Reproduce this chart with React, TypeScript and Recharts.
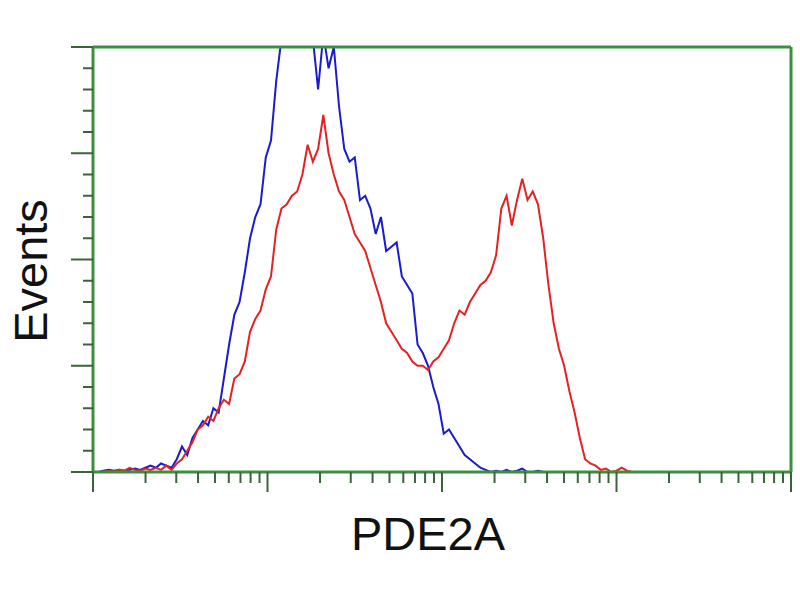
import React from 'react';
import { LineChart, Line, XAxis, YAxis, ReferenceLine } from 'recharts';

// Flow histogram, log fluorescence axis (4 decades), bins every 0.03 decades
const BIN_STEP = 0.03;

// blue: isotype / negative control
const controlCounts = [
  0, 0, 0.3, 0.5, 0.3, 0.5, 0.3, 0.5, 0.8, 0.5,
  1, 1.5, 1, 2, 1.5, 1, 3, 6, 4, 8,
  10, 12, 11, 15, 14, 22, 30, 37, 40, 47,
  55, 60, 63, 74, 78, 92, 102, 108, 112, 115,
  118, 113, 102, 90, 103, 95, 100, 86, 76, 73,
  74, 64, 65, 62, 56, 60, 52, 53, 54, 46,
  44, 42, 30, 28, 25, 20, 16, 9, 10, 8,
  6, 4, 3, 2, 1, 0.5, 0, 0.3, 0, 0.5,
  0, 0.3, 0.8, 0, 0, 0.3, 0,
];

// red: PDE2A transfected
const pde2aCounts = [
  0, 0, 0, 0.3, 0, 0.5, 0.3, 1, 0.5, 0.3,
  0.8, 0.5, 1, 0.5, 1.5, 0.5, 2, 3, 5, 7,
  10, 11, 13, 12, 15, 17, 16, 22, 23, 26,
  33, 36, 38, 43, 46, 57, 62, 63, 65, 66,
  70, 77, 73, 76, 84, 75, 70, 66, 64, 60,
  56, 54, 52, 48, 44, 40, 35, 33, 31, 29,
  28, 26, 25, 25, 24, 26, 27, 29, 31, 35,
  38, 37, 40, 42, 44, 45, 47, 51, 62, 65,
  58, 64, 69, 64, 66, 63, 55, 44, 35, 29,
  25, 19, 14, 8, 3, 2, 1.5, 0.5, 0.8, 0,
  0.3, 1, 0.3, 0,
];

const xTicks = [1, 10, 100, 1000, 10000].flatMap((d) =>
  d === 10000 ? [d] : [1, 2, 3, 4, 5, 6, 7, 8, 9].map((k) => k * d)
);
const yTicks = [0, 5, 10, 15, 20, 25, 30, 35, 40, 45, 50, 55, 60, 65, 70, 75, 80, 85, 90, 95, 100];

const AXIS_GREEN = '#3c8f3c';
const TICK_GREEN = '#3a633a';

const data = pde2aCounts.map((red, i) => ({
  x: Math.pow(10, i * BIN_STEP),
  control: i < controlCounts.length ? controlCounts[i] : undefined,
  pde2a: red,
}));

function XTick({ x, y, payload }: any) {
  const major = [1, 10, 100, 1000, 10000].includes(payload.value);
  return <line x1={x} x2={x} y1={y} y2={y + (major ? 20 : 11)} stroke={TICK_GREEN} strokeWidth={2} />;
}

function YTick({ x, y, payload }: any) {
  const major = payload.value % 25 === 0;
  return <line x1={x - (major ? 22 : 10)} x2={x} y1={y} y2={y} stroke={TICK_GREEN} strokeWidth={2} />;
}

export default function App() {
  return (
    <div style={{ position: 'absolute', left: 0, top: 0, width: 800, height: 600, background: '#fff' }}>
      <LineChart width={800} height={600} data={data} margin={{ top: 47, right: 9, left: 63, bottom: 98 }}>
        <XAxis
          dataKey="x"
          type="number"
          scale="log"
          domain={[1, 10000]}
          ticks={xTicks}
          interval={0}
          tick={<XTick />}
          tickLine={false}
          tickSize={0}
          tickMargin={0}
          height={30}
          axisLine={{ stroke: AXIS_GREEN, strokeWidth: 3 }}
        />
        <YAxis
          type="number"
          domain={[0, 100]}
          allowDataOverflow
          ticks={yTicks}
          interval={0}
          tick={<YTick />}
          tickLine={false}
          tickSize={0}
          tickMargin={0}
          width={30}
          axisLine={{ stroke: AXIS_GREEN, strokeWidth: 3 }}
        />
        <Line
          type="linear"
          dataKey="control"
          stroke="#1a1ad0"
          strokeWidth={2}
          dot={false}
          isAnimationActive={false}
        />
        <Line
          type="linear"
          dataKey="pde2a"
          stroke="#e52222"
          strokeWidth={2}
          dot={false}
          isAnimationActive={false}
        />
        <ReferenceLine y={100} stroke={AXIS_GREEN} strokeWidth={3} />
        <ReferenceLine x={10000} stroke={AXIS_GREEN} strokeWidth={3} />
      </LineChart>
      <svg width={800} height={600} style={{ position: 'absolute', left: 0, top: 0, pointerEvents: 'none' }}>
        <text
          x={428}
          y={550}
          textAnchor="middle"
          fontFamily="'Liberation Sans', Arial, sans-serif"
          fontSize={47}
          fill="#111"
        >
          PDE2A
        </text>
        <text
          x={47}
          y={271}
          transform="rotate(-90 47 271)"
          textAnchor="middle"
          fontFamily="'Liberation Sans', Arial, sans-serif"
          fontSize={47}
          fill="#111"
        >
          Events
        </text>
      </svg>
    </div>
  );
}
